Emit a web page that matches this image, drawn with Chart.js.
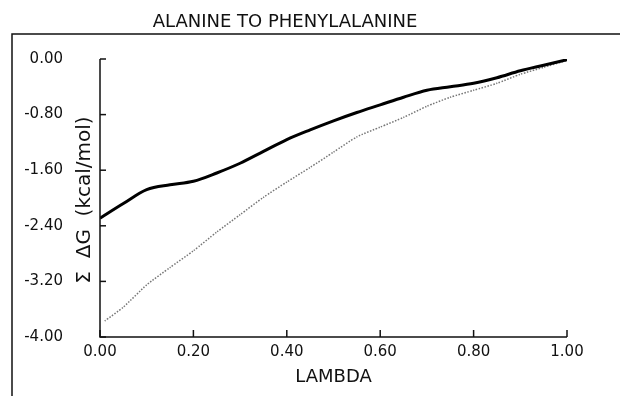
<!DOCTYPE html>
<html>
<head>
<meta charset="utf-8">
<script src="https://cdn.jsdelivr.net/npm/chart.js@4"></script>
<style>
html,body{margin:0;padding:0;background:#fff;}
#wrap{width:620px;height:396px;position:relative;}
</style>
</head>
<body>
<div id="wrap"><canvas id="c" width="620" height="396"></canvas></div>
<script>
const chartTitle = "ALANINE TO PHENYLALANINE";
const xTitle = "LAMBDA";
const yTitle = "Σ  ΔG  (kcal/mol)";
const xTicks = [0, 0.2, 0.4, 0.6, 0.8, 1.0];
const yTicks = [0, -0.8, -1.6, -2.4, -3.2, -4.0];

const lambdaSolid = [0, 0.05, 0.10, 0.15, 0.20, 0.25, 0.30, 0.35, 0.40, 0.45, 0.50, 0.55, 0.60, 0.65, 0.70, 0.75, 0.80, 0.85, 0.90, 0.95, 1.00];
const solidValues = [-2.29, -2.08, -1.88, -1.81, -1.76, -1.64, -1.50, -1.33, -1.16, -1.02, -0.89, -0.77, -0.66, -0.55, -0.45, -0.40, -0.35, -0.27, -0.17, -0.09, -0.01];

const lambdaDotted = [0.01, 0.05, 0.10, 0.15, 0.20, 0.25, 0.30, 0.35, 0.40, 0.45, 0.50, 0.55, 0.60, 0.65, 0.70, 0.75, 0.80, 0.85, 0.90, 0.95, 1.00];
const dottedValues = [-3.77, -3.57, -3.25, -3.00, -2.76, -2.49, -2.24, -1.99, -1.77, -1.56, -1.34, -1.12, -0.98, -0.84, -0.68, -0.55, -0.45, -0.35, -0.22, -0.12, -0.02];

const solidData = lambdaSolid.map((x, i) => ({x, y: solidValues[i]}));
const dottedData = lambdaDotted.map((x, i) => ({x, y: dottedValues[i]}));

const FONT = "'DejaVu Sans', 'Liberation Sans', sans-serif";

const decor = {
  id: 'decor',
  afterDraw(chart) {
    const ctx = chart.ctx;
    const xs = chart.scales.x, ys = chart.scales.y;
    const x0 = xs.getPixelForValue(0), x1 = xs.getPixelForValue(1);
    const yb = ys.getPixelForValue(-4), yt = ys.getPixelForValue(0);
    ctx.save();
    ctx.strokeStyle = '#111';
    ctx.lineWidth = 1.5;
    // outer frame
    ctx.beginPath();
    ctx.moveTo(12, 396); ctx.lineTo(12, 34); ctx.lineTo(620, 34);
    ctx.stroke();
    // axes
    ctx.beginPath();
    ctx.moveTo(x0, yt); ctx.lineTo(x0, yb); ctx.lineTo(x1, yb);
    ctx.stroke();
    // y ticks (inside)
    yTicks.forEach(v => {
      const p = ys.getPixelForValue(v);
      ctx.beginPath(); ctx.moveTo(x0, p); ctx.lineTo(x0 + 6, p); ctx.stroke();
    });
    // x ticks (inside)
    xTicks.forEach(v => {
      const p = xs.getPixelForValue(v);
      ctx.beginPath(); ctx.moveTo(p, yb); ctx.lineTo(p, yb - 7); ctx.stroke();
    });
    // titles
    ctx.fillStyle = '#111';
    ctx.textAlign = 'center';
    ctx.textBaseline = 'middle';
    ctx.font = '18px ' + FONT;
    ctx.fillText(chartTitle, 285, 22);
    ctx.fillText(xTitle, (x0 + x1) / 2, 377);
    ctx.translate(85, 200);
    ctx.rotate(-Math.PI / 2);
    ctx.font = '20px ' + FONT;
    ctx.fillText(yTitle, 0, 0);
    ctx.restore();
  }
};

new Chart(document.getElementById('c'), {
  type: 'line',
  data: {
    datasets: [
      {
        data: solidData,
        borderColor: '#000',
        borderWidth: 3,
        pointRadius: 0,
        tension: 0.3,
        cubicInterpolationMode: 'monotone'
      },
      {
        data: dottedData,
        borderColor: '#777',
        borderWidth: 1.5,
        borderDash: [1.5, 1.5],
        pointRadius: 0,
        tension: 0.2
      }
    ]
  },
  options: {
    responsive: false,
    animation: false,
    devicePixelRatio: 1,
    layout: { padding: { left: 12, right: 53, top: 59, bottom: 0 } },
    plugins: { legend: { display: false }, tooltip: { enabled: false }, title: { display: false } },
    scales: {
      x: {
        type: 'linear',
        min: 0, max: 1,
        afterBuildTicks: s => { s.ticks = xTicks.map(v => ({value: v})); },
        afterFit: s => { s.height = 59; },
        grid: { display: false, drawTicks: false },
        border: { display: false },
        ticks: {
          padding: 6,
          color: '#111',
          font: { family: FONT, size: 15 },
          maxRotation: 0,
          callback: v => v.toFixed(2)
        }
      },
      y: {
        type: 'linear',
        min: -4, max: 0,
        afterBuildTicks: s => { s.ticks = yTicks.map(v => ({value: v})); },
        afterFit: s => { s.width = 88; },
        grid: { display: false, drawTicks: false },
        border: { display: false },
        ticks: {
          padding: 37,
          color: '#111',
          font: { family: FONT, size: 15 },
          callback: v => v.toFixed(2)
        }
      }
    }
  },
  plugins: [decor]
});
</script>
</body>
</html>
